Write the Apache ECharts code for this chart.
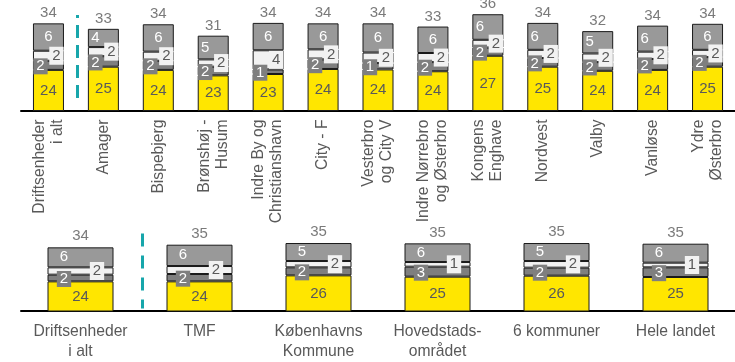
<!DOCTYPE html>
<html><head><meta charset="utf-8">
<script src="https://cdn.jsdelivr.net/npm/echarts@6/dist/echarts.min.js"></script>
<style>html,body{margin:0;padding:0;background:#fff}#c{width:735px;height:362px}</style>
</head><body><div id="c"></div>
<script>
// ---- Top panel data ----
const topCategories = ['Driftsenheder\ni alt','Amager','Bispebjerg','Brønshøj -\nHusum','Indre By og\nChristianshavn','City - F','Vesterbro\nog City V','Indre Nørrebro\nog Østerbro','Kongens\nEnghave','Nordvest','Valby','Vanløse','Ydre\nØsterbro'];
const topBase  = [23.9, 24.6, 23.9, 22.7, 23.0, 24.1, 24.0, 23.6, 27.0, 24.6, 23.7, 23.9, 24.6];
const topDark  = [2.0, 2.3, 2.0, 1.9, 1.0, 2.1, 1.4, 2.0, 1.8, 1.9, 1.9, 2.4, 2.1];
const topLight = [2.2, 2.0, 2.0, 1.6, 4.2, 2.2, 2.3, 2.0, 1.7, 1.8, 1.9, 1.6, 1.6];
const topGrey  = [6.0, 4.0, 6.0, 5.2, 6.0, 5.7, 6.4, 5.8, 5.6, 5.9, 4.9, 5.7, 5.7];
const topTotals = [34, 33, 34, 31, 34, 34, 34, 33, 36, 34, 32, 34, 34];

// ---- Bottom panel data ----
const botCategories = ['Driftsenheder\ni alt','TMF','Københavns\nKommune','Hovedstads-\nområdet','6 kommuner','Hele landet'];
const botBase  = [23.9, 23.9, 25.7, 25.3, 25.6, 25.2];
const botDark  = [2.0, 2.2, 2.4, 3.0, 2.4, 2.9];
const botLight = [2.2, 2.4, 1.9, 1.4, 2.0, 1.4];
const botGrey  = [6.0, 6.4, 5.4, 5.6, 5.4, 5.7];
const botTotals = [34, 35, 35, 35, 35, 35];

const FONT = 'Liberation Sans, Arial, sans-serif';
const TXT = '#595959';
const C_YEL = '#FFE600', C_DARK = '#7F7F7F', C_LIGHT = '#F2F2F2', C_GREY = '#999999';
const BORDER = '#1a1a1a';
const topLeftGrey = new Set([1, 3, 8, 9, 10, 11]);

function panel(idx, base, dark, light, grey, totals, barW, quarter, greyOffsetFn, totDist) {
  const common = { type: 'bar', stack: 's' + idx, xAxisIndex: idx, yAxisIndex: idx, barWidth: barW };
  const fmt = p => Math.round(p.value);
  const lbl = { show: true, fontFamily: FONT, fontSize: 15, formatter: fmt };
  const sums = base.map((v, i) => v + dark[i] + light[i] + grey[i]);
  return [
    Object.assign({}, common, { name: 'base' + idx, data: base,
      itemStyle: { color: C_YEL, borderColor: BORDER, borderWidth: 1 },
      label: Object.assign({}, lbl, { position: 'inside', color: TXT }) }),
    Object.assign({}, common, { name: 'dark' + idx, data: dark,
      itemStyle: { color: C_DARK, borderColor: BORDER, borderWidth: 1 },
      label: Object.assign({}, lbl, { position: 'inside', offset: [-quarter, 1], color: '#fff',
        backgroundColor: C_DARK, padding: [1, 3, 0, 3] }) }),
    Object.assign({}, common, { name: 'light' + idx, data: light,
      itemStyle: { color: C_LIGHT, borderColor: BORDER, borderWidth: 1 },
      label: Object.assign({}, lbl, { position: 'inside', offset: [quarter, 0], color: TXT,
        backgroundColor: C_LIGHT, padding: [2, 3, 1, 3] }) }),
    Object.assign({}, common, { name: 'grey' + idx,
      data: grey.map((v, i) => ({ value: v, label: { offset: [greyOffsetFn(i), 0] } })),
      itemStyle: { color: C_GREY, borderColor: BORDER, borderWidth: 1 },
      label: Object.assign({}, lbl, { position: 'inside', color: '#fff' }) }),
    { type: 'scatter', xAxisIndex: idx, yAxisIndex: idx, symbolSize: 1,
      itemStyle: { color: 'rgba(0,0,0,0)' }, data: sums, z: 5,
      label: { show: true, position: 'top', distance: totDist, fontFamily: FONT, fontSize: 15, color: TXT,
        formatter: p => totals[p.dataIndex] } }
  ];
}

function sepLine(axisIdx, yIdx, x, y1, y2, dash, offset) {
  return { type: 'line', xAxisIndex: axisIdx, yAxisIndex: yIdx, data: [[x, y2]], showSymbol: false, symbol: 'none',
    lineStyle: { opacity: 0 },
    markLine: { silent: true, symbol: ['none', 'none'], label: { show: false },
      lineStyle: { color: '#17A6AB', width: 3, type: dash, dashOffset: offset },
      data: [[{ coord: [x, y1] }, { coord: [x, y2] }]] } };
}

const catAxis = (grid, data, rotate, margin, lh) => ({
  type: 'category', gridIndex: grid, data: data, boundaryGap: true,
  axisTick: { show: false },
  axisLine: { lineStyle: { color: '#000', width: 2 } },
  axisLabel: { rotate: rotate, interval: 0, fontFamily: FONT, fontSize: 15.7, color: TXT, margin: margin, lineHeight: lh }
});

const chart = echarts.init(document.getElementById('c'), null, { renderer: 'canvas' });
chart.setOption({
  animation: false,
  backgroundColor: '#fff',
  grid: [
    { left: 21, top: 1, width: 717, height: 109.5 },
    { left: 21, top: 227.7, width: 717, height: 90 }
  ],
  xAxis: [
    catAxis(0, topCategories, 90, 9, 18),
    catAxis(1, botCategories, 0, 11, 20),
    { type: 'value', gridIndex: 0, min: -0.5, max: topCategories.length - 0.5, show: false },
    { type: 'value', gridIndex: 1, min: -0.5, max: botCategories.length - 0.5, show: false }
  ],
  yAxis: [
    { type: 'value', gridIndex: 0, min: 15, max: 39, show: false },
    { type: 'value', gridIndex: 1, min: 15, max: 40, show: false },
    { type: 'value', gridIndex: 0, min: 15, max: 39, show: false },
    { type: 'value', gridIndex: 1, min: 15, max: 40, show: false }
  ],
  series: [].concat(
    panel(0, topBase, topDark, topLight, topGrey, topTotals, 31, 8, i => topLeftGrey.has(i) ? -8 : 0, 2),
    panel(1, botBase, botDark, botLight, botGrey, botTotals, 66, 16.5, i => -16.5, 3),
    [ sepLine(2, 2, 0.53, 35.93, 16.2, [13, 7], 10),
      sepLine(3, 3, 0.52, 38.25, 15.75, [13, 9], 0) ]
  )
});
</script>
</body></html>
